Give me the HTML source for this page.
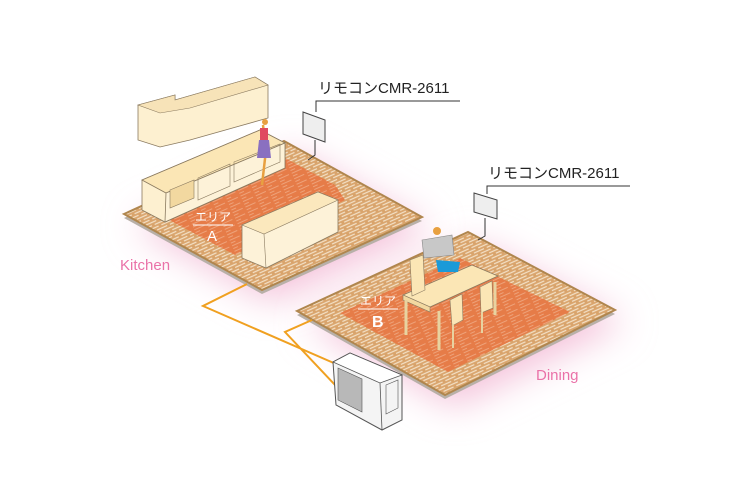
<!DOCTYPE html>
<html><head><meta charset="utf-8"><style>
html,body{margin:0;padding:0;background:#fff;width:750px;height:500px;overflow:hidden}
svg{display:block}
text{font-family:"Liberation Sans","Noto Sans CJK JP",sans-serif}
</style></head><body>
<svg width="750" height="500" viewBox="0 0 750 500" xmlns="http://www.w3.org/2000/svg">
<defs>
<pattern id="wood" width="14" height="6" patternUnits="userSpaceOnUse" patternTransform="rotate(-24)">
<rect width="14" height="6" fill="#d9a46c"/>
<line x1="0" y1="1" x2="11" y2="1" stroke="#f3e0c6" stroke-width="1.2"/>
<line x1="0" y1="4" x2="5" y2="4" stroke="#f3e0c6" stroke-width="1.2"/>
<line x1="8" y1="4" x2="14" y2="4" stroke="#f3e0c6" stroke-width="1.2"/>
</pattern>
<pattern id="heat" width="14" height="6" patternUnits="userSpaceOnUse" patternTransform="rotate(-24)">
<rect width="14" height="6" fill="#e67c48"/>
<line x1="0" y1="1" x2="11" y2="1" stroke="#eea27a" stroke-width="1"/>
<line x1="0" y1="4" x2="5" y2="4" stroke="#eea27a" stroke-width="1"/>
</pattern>
<filter id="blur" x="-40%" y="-40%" width="180%" height="180%"><feGaussianBlur stdDeviation="18"/></filter>
</defs>
<!-- pink glow -->
<polygon points="124,214 284,141 422,217 262,290" fill="#f4c2da" filter="url(#blur)" transform="translate(10,12)"/>
<polygon points="297,311 468,232 615,310 445,395" fill="#f4c2da" filter="url(#blur)" transform="translate(10,12)"/>
<!-- kitchen floor -->
<polygon points="124,218 284,145 422,221 262,294" fill="#b8b0a8"/>
<polygon points="124,214 284,141 422,217 262,290" fill="url(#wood)" stroke="#b0864e" stroke-width="2"/>
<polygon points="160,215 285,158 335,185 212,243" fill="url(#heat)"/>
<polygon points="212,243 335,185 345,200 235,255" fill="url(#heat)"/>
<!-- dining floor -->
<polygon points="297,315 468,236 615,314 445,399" fill="#b8b0a8"/>
<polygon points="297,311 468,232 615,310 445,395" fill="url(#wood)" stroke="#b0864e" stroke-width="2"/>
<polygon points="340,313 460,258 570,312 448,372" fill="url(#heat)"/>
<!-- kitchen counter back -->
<polygon points="142,180 260,130 285,143 285,168 165,222 142,210" fill="#fdf0d0" stroke="#8a7a60" stroke-width="0.8"/>
<polygon points="142,180 260,130 285,143 166,193" fill="#fbe6b5" stroke="#8a7a60" stroke-width="0.8"/>
<polygon points="166,193 285,143 285,168 165,222" fill="#fdf2d8" stroke="#8a7a60" stroke-width="0.8"/>
<polygon points="170,190 194,180 194,198 170,208" fill="#f2d8a0" stroke="#8a7a60" stroke-width="0.6"/>
<polygon points="198,178 230,164 230,186 198,200" fill="none" stroke="#8a7a60" stroke-width="0.6"/>
<polygon points="234,162 280,144 280,162 234,182" fill="none" stroke="#8a7a60" stroke-width="0.6"/>
<!-- upper cabinets -->
<polygon points="138,105 175,95 175,100 255,77 268,85 268,118 190,140 160,147 138,140" fill="#fdf0d0" stroke="#8a7a60" stroke-width="0.8"/>
<polygon points="138,105 175,95 175,100 255,77 268,85 190,108 160,113" fill="#f7e3b8" stroke="#8a7a60" stroke-width="0.6"/>
<!-- island -->
<polygon points="242,225 318,192 338,200 338,232 266,268 242,258" fill="#fdf2d8" stroke="#8a7a60" stroke-width="0.8"/>
<polygon points="242,225 318,192 338,200 264,234" fill="#fbe8bd" stroke="#8a7a60" stroke-width="0.6"/>
<line x1="264" y1="234" x2="266" y2="268" stroke="#8a7a60" stroke-width="0.6"/>
<!-- woman -->
<path d="M263 125 L266 150 L262 185" stroke="#e8a040" stroke-width="2.5" fill="none"/>
<circle cx="265" cy="122" r="3" fill="#e8a040"/>
<polygon points="260,128 268,128 268,140 260,140" fill="#e04a60"/>
<polygon points="259,140 269,140 271,158 257,158" fill="#8a70c0"/>
<!-- dining table & chairs -->
<polygon points="403,295 472,265 498,276 430,307" fill="#fbe6b5" stroke="#8a7a60" stroke-width="0.8"/>
<polygon points="403,295 430,307 430,312 403,300" fill="#f2d8a0" stroke="#8a7a60" stroke-width="0.6"/>
<line x1="406" y1="300" x2="406" y2="335" stroke="#e8d3a0" stroke-width="3"/>
<line x1="439" y1="311" x2="439" y2="350" stroke="#e8d3a0" stroke-width="3"/>
<line x1="495" y1="282" x2="495" y2="315" stroke="#e8d3a0" stroke-width="3"/>
<polygon points="410,260 423,255 425,290 412,296" fill="#fbe6b5" stroke="#8a7a60" stroke-width="0.6"/>
<polygon points="450,300 462,294 463,320 452,326" fill="#fbe6b5" stroke="#8a7a60" stroke-width="0.6"/>
<polygon points="480,287 492,281 493,308 481,313" fill="#fbe6b5" stroke="#8a7a60" stroke-width="0.6"/>
<line x1="453" y1="325" x2="453" y2="348" stroke="#e8d3a0" stroke-width="2"/>
<line x1="482" y1="312" x2="482" y2="333" stroke="#e8d3a0" stroke-width="2"/>
<!-- man -->
<polygon points="422,240 452,235 454,255 424,258" fill="#c8c8c8" stroke="#888" stroke-width="0.6"/>
<circle cx="437" cy="231" r="4" fill="#e8a040"/>
<polygon points="436,260 460,262 458,272 438,272" fill="#1a9ad8"/>
<!-- pipes -->
<polyline points="247,284 203,306 336,364" fill="none" stroke="#f0a020" stroke-width="2"/>
<polyline points="312,320 285,332 336,386" fill="none" stroke="#f0a020" stroke-width="2"/>
<!-- outdoor unit -->
<polygon points="333,362 350,353 402,375 402,420 382,430 336,405" fill="#f4f4f4" stroke="#555" stroke-width="1"/>
<polygon points="333,362 350,353 402,375 380,383" fill="#fff" stroke="#555" stroke-width="0.8"/>
<line x1="380" y1="383" x2="382" y2="430" stroke="#555" stroke-width="0.8"/>
<polygon points="338,368 362,379 362,412 338,400" fill="#b8b8b8" stroke="#555" stroke-width="0.6"/>
<polygon points="386,385 398,380 398,408 386,414" fill="none" stroke="#555" stroke-width="0.6"/>
<!-- remotes -->
<polyline points="316,112 316,101 460,101" fill="none" stroke="#333" stroke-width="1"/>
<polygon points="303,112 325,120 325,142 303,134" fill="#eeeeee" stroke="#444" stroke-width="1"/>
<polyline points="315,140 315,155 308,160" fill="none" stroke="#333" stroke-width="1"/>
<polyline points="487,194 487,186 630,186" fill="none" stroke="#333" stroke-width="1"/>
<polygon points="474,193 497,200 497,219 474,212" fill="#eeeeee" stroke="#444" stroke-width="1"/>
<polyline points="485,218 485,236 478,240" fill="none" stroke="#333" stroke-width="1"/>
<text x="318" y="93" font-size="15" fill="#222">リモコンCMR-2611</text>
<text x="488" y="178" font-size="15" fill="#222">リモコンCMR-2611</text>
<!-- area labels -->
<text x="195" y="221" font-size="12" fill="#fff">エリア</text>
<line x1="193" y1="225" x2="233" y2="225" stroke="#fff" stroke-width="1"/>
<text x="207" y="241" font-size="15" fill="#fff">A</text>
<text x="360" y="305" font-size="12" fill="#fff">エリア</text>
<line x1="358" y1="309" x2="398" y2="309" stroke="#fff" stroke-width="1"/>
<text x="372" y="327" font-size="16" font-weight="bold" fill="#fff">B</text>
<text x="120" y="270" font-size="15" fill="#ea72a8">Kitchen</text>
<text x="536" y="380" font-size="15" fill="#ea72a8">Dining</text>
</svg>
</body></html>
